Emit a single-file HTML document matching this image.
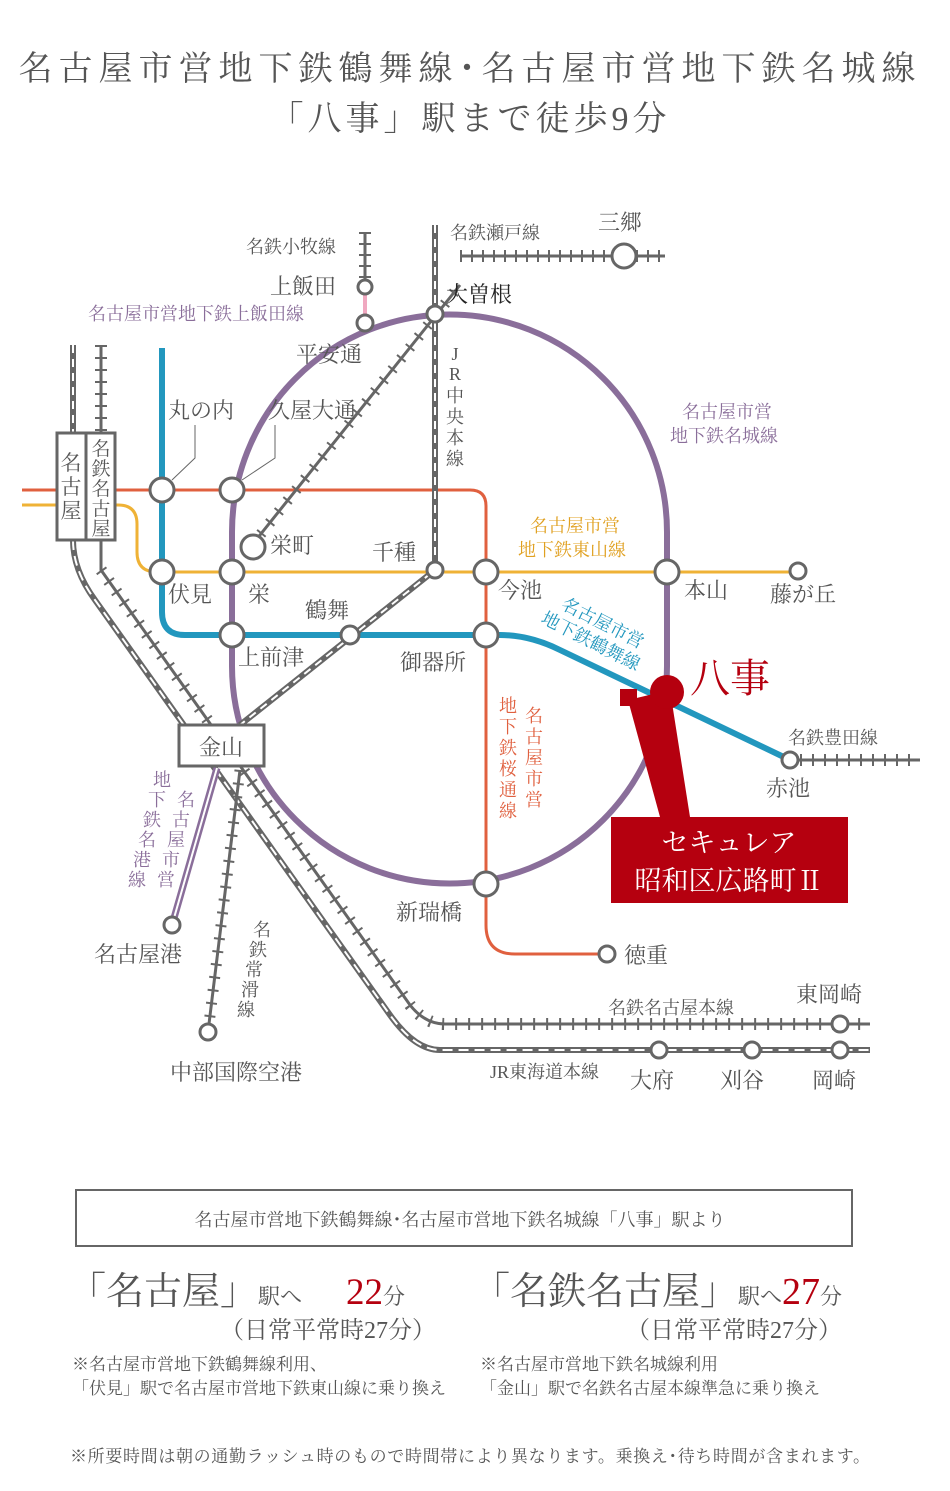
<!DOCTYPE html>
<html><head><meta charset="utf-8"><style>
html,body{margin:0;padding:0;background:#fff;}
svg{display:block;}
text{font-family:"Liberation Serif","Noto Serif CJK SC",serif;fill:#555;}
</style></head><body>
<svg width="950" height="1491" viewBox="0 0 950 1491" xmlns="http://www.w3.org/2000/svg">
<!-- title -->
<text x="470" y="80" font-size="34" text-anchor="middle" letter-spacing="6" fill="#555">名古屋市営地下鉄鶴舞線･名古屋市営地下鉄名城線</text>
<text x="470" y="130" font-size="34" text-anchor="middle" letter-spacing="4" fill="#555">「八事」駅まで徒歩9分</text>

<path d="M22,490 L470,490 Q486,490 486,506 L486,925 Q486,954 515,954 L607,954" fill="none" stroke="#e0603f" stroke-width="3"/>
<path d="M22,505 L118,505 Q137,505 137,524 L137,552 Q137,572 157,572 L800,572" fill="none" stroke="#efb236" stroke-width="3"/>
<path d="M162,348 L162,612 Q162,635 185,635 L500,635 Q530,635 560,650 L790,760" fill="none" stroke="#2297be" stroke-width="6"/>
<path d="M232,532 A217.5,217.5 0 0 1 667,532 L667,666 A217.5,217.5 0 0 1 232,666 Z" fill="none" stroke="#8a6e9a" stroke-width="6"/>
<line x1="365" y1="287" x2="365" y2="323" stroke="#f0a8c0" stroke-width="4"/>

<g stroke="#666" fill="none">
  <line x1="365" y1="232" x2="365" y2="287" stroke-width="3"/>
  <line x1="365" y1="232" x2="365" y2="287" stroke-width="12" stroke-dasharray="2,9"/>
  <line x1="460" y1="256" x2="665" y2="256" stroke-width="3"/>
  <line x1="460" y1="256" x2="665" y2="256" stroke-width="12" stroke-dasharray="2,9"/>
  <line x1="252" y1="545" x2="460" y2="285" stroke-width="3"/>
  <line x1="252" y1="545" x2="460" y2="285" stroke-width="11" stroke-dasharray="2,12"/>
  <path d="M435,225 L435,570 L240,725" stroke-width="6"/>
  <path d="M435,225 L435,570 L240,725" stroke="#fff" stroke-width="2" stroke-dasharray="8,6"/>
  <line x1="73" y1="345" x2="73" y2="433" stroke-width="6"/>
  <line x1="73" y1="345" x2="73" y2="433" stroke="#fff" stroke-width="2" stroke-dasharray="8,6"/>
  <line x1="101" y1="345" x2="101" y2="433" stroke-width="3"/>
  <line x1="101" y1="345" x2="101" y2="433" stroke-width="12" stroke-dasharray="2,10"/>
  <path d="M73,540 Q73,570 95,600 L390,1015 Q415,1050 440,1050 L870,1050" stroke-width="6"/>
  <path d="M73,540 Q73,570 95,600 L390,1015 Q415,1050 440,1050 L870,1050" stroke="#fff" stroke-width="2" stroke-dasharray="10,6"/>
  <path d="M101,540 L101,570 L410,1005 Q425,1024 445,1024 L870,1024" stroke-width="3"/>
  <path d="M101,570 L410,1005 Q425,1024 445,1024 L870,1024" stroke-width="12" stroke-dasharray="2,11"/>
  <line x1="240" y1="770" x2="208" y2="1032" stroke-width="3"/>
  <line x1="240" y1="770" x2="208" y2="1032" stroke-width="11" stroke-dasharray="2,11"/>
  <line x1="790" y1="760" x2="920" y2="760" stroke-width="3"/>
  <line x1="800" y1="760" x2="920" y2="760" stroke-width="12" stroke-dasharray="2,10"/>
</g>
<line x1="217" y1="768" x2="172" y2="925" stroke="#8a6e9a" stroke-width="7"/>
<line x1="217" y1="768" x2="172" y2="925" stroke="#fff" stroke-width="2"/>

<polyline points="172,480 195,458 195,425" fill="none" stroke="#666" stroke-width="1"/>
<polyline points="242,480 275,458 275,425" fill="none" stroke="#666" stroke-width="1"/>

<rect x="57" y="433" width="29" height="107" fill="#fff" stroke="#666" stroke-width="3"/>
<rect x="86" y="433" width="29" height="107" fill="#fff" stroke="#666" stroke-width="3"/>
<text x="71" y="470" font-size="21" text-anchor="middle">名</text>
<text x="71" y="494" font-size="21" text-anchor="middle">古</text>
<text x="71" y="518" font-size="21" text-anchor="middle">屋</text>
<text x="101" y="455" font-size="19" text-anchor="middle">名</text>
<text x="101" y="475" font-size="19" text-anchor="middle">鉄</text>
<text x="101" y="495" font-size="19" text-anchor="middle">名</text>
<text x="101" y="515" font-size="19" text-anchor="middle">古</text>
<text x="101" y="535" font-size="19" text-anchor="middle">屋</text>
<rect x="179" y="725" width="85" height="41" fill="#fff" stroke="#666" stroke-width="3"/>
<text x="221" y="755" font-size="22" text-anchor="middle">金山</text>

<g fill="#fff" stroke="#666" stroke-width="3">
<circle cx="162" cy="490" r="12"/><circle cx="232" cy="490" r="12"/>
<circle cx="162" cy="572" r="12"/><circle cx="232" cy="572" r="12"/>
<circle cx="253" cy="547" r="12"/>
<circle cx="232" cy="635" r="12"/><circle cx="350" cy="635" r="9"/>
<circle cx="486" cy="572" r="12"/><circle cx="486" cy="635" r="12"/>
<circle cx="435" cy="570" r="8"/>
<circle cx="667" cy="572" r="12"/><circle cx="798" cy="571" r="8"/>
<circle cx="365" cy="323" r="8"/><circle cx="365" cy="287" r="7"/>
<circle cx="435" cy="314" r="8"/><circle cx="624" cy="256" r="12"/>
<circle cx="486" cy="884" r="12"/><circle cx="607" cy="954" r="8"/>
<circle cx="790" cy="760" r="8"/><circle cx="172" cy="925" r="8"/>
<circle cx="208" cy="1032" r="8"/>
<circle cx="840" cy="1024" r="8"/>
<circle cx="659" cy="1050" r="8"/><circle cx="752" cy="1050" r="8"/><circle cx="840" cy="1050" r="8"/>
</g>

<polygon points="628,700 660,817 690,817 670,690" fill="#b5000f"/>
<rect x="620" y="689" width="17" height="17" fill="#b5000f"/>
<circle cx="667" cy="692" r="17" fill="#b5000f"/>
<rect x="611" y="817" width="237" height="86" fill="#b5000f"/>
<text x="729" y="852" font-size="27" text-anchor="middle" style="fill:#fff">セキュレア</text>
<text x="729" y="890" font-size="27" text-anchor="middle" style="fill:#fff">昭和区広路町Ⅱ</text>
<text x="690" y="692" font-size="40" style="fill:#b5000f">八事</text>

<g font-size="22">
<text x="168" y="418">丸の内</text>
<text x="268" y="418">久屋大通</text>
<text x="296" y="362">平安通</text>
<text x="270" y="294">上飯田</text>
<text x="446" y="302" style="fill:#222">大曽根</text>
<text x="598" y="230">三郷</text>
<text x="270" y="553">栄町</text>
<text x="372" y="560">千種</text>
<text x="168" y="602">伏見</text>
<text x="248" y="602">栄</text>
<text x="305" y="618">鶴舞</text>
<text x="238" y="665">上前津</text>
<text x="400" y="670">御器所</text>
<text x="498" y="598">今池</text>
<text x="684" y="598">本山</text>
<text x="770" y="602">藤が丘</text>
<text x="766" y="796">赤池</text>
<text x="396" y="920">新瑞橋</text>
<text x="624" y="963">徳重</text>
<text x="94" y="962">名古屋港</text>
<text x="170" y="1080">中部国際空港</text>
<text x="796" y="1002">東岡崎</text>
<text x="630" y="1088">大府</text>
<text x="720" y="1088">刈谷</text>
<text x="812" y="1088">岡崎</text>
</g>
<g font-size="18">
<text x="246" y="253">名鉄小牧線</text>
<text x="450" y="239">名鉄瀬戸線</text>
<text x="88" y="320" style="fill:#8a6e9a">名古屋市営地下鉄上飯田線</text>
<text x="682" y="418" style="fill:#8a6e9a">名古屋市営</text>
<text x="670" y="442" style="fill:#8a6e9a">地下鉄名城線</text>
<text x="530" y="532" style="fill:#e0a020">名古屋市営</text>
<text x="518" y="556" style="fill:#e0a020">地下鉄東山線</text>
<text x="788" y="744">名鉄豊田線</text>
<text x="608" y="1014">名鉄名古屋本線</text>
<text x="490" y="1078">JR東海道本線</text>
</g>
<g font-size="18" text-anchor="middle">
<text x="455" y="360">J</text><text x="455" y="380">R</text><text x="455" y="402">中</text><text x="455" y="423">央</text><text x="455" y="444">本</text><text x="455" y="465">線</text>
<text x="534" y="722" style="fill:#e0603f">名</text><text x="534" y="743" style="fill:#e0603f">古</text><text x="534" y="764" style="fill:#e0603f">屋</text><text x="534" y="785" style="fill:#e0603f">市</text><text x="534" y="806" style="fill:#e0603f">営</text>
<text x="508" y="712" style="fill:#e0603f">地</text><text x="508" y="733" style="fill:#e0603f">下</text><text x="508" y="754" style="fill:#e0603f">鉄</text><text x="508" y="775" style="fill:#e0603f">桜</text><text x="508" y="796" style="fill:#e0603f">通</text><text x="508" y="817" style="fill:#e0603f">線</text>
</g>
<g font-size="18" style="fill:#2297be">
<text transform="translate(560,608) rotate(27)" style="fill:#2297be">名古屋市営</text>
<text transform="translate(540,622) rotate(27)" style="fill:#2297be">地下鉄鶴舞線</text>
</g>
<!-- Meiko vertical labels -->
<g font-size="18" text-anchor="middle" style="fill:#8a6e9a">
<text x="186" y="806" style="fill:#8a6e9a">名</text><text x="181" y="826" style="fill:#8a6e9a">古</text><text x="176" y="846" style="fill:#8a6e9a">屋</text><text x="171" y="866" style="fill:#8a6e9a">市</text><text x="166" y="886" style="fill:#8a6e9a">営</text>
<text x="162" y="786" style="fill:#8a6e9a">地</text><text x="157" y="806" style="fill:#8a6e9a">下</text><text x="152" y="826" style="fill:#8a6e9a">鉄</text><text x="147" y="846" style="fill:#8a6e9a">名</text><text x="142" y="866" style="fill:#8a6e9a">港</text><text x="137" y="886" style="fill:#8a6e9a">線</text>
</g>
<g font-size="18" text-anchor="middle">
<text x="262" y="936">名</text><text x="258" y="956">鉄</text><text x="254" y="976">常</text><text x="250" y="996">滑</text><text x="246" y="1016">線</text>
</g>

<rect x="76" y="1190" width="776" height="56" fill="#fff" stroke="#666" stroke-width="2"/>
<text x="460" y="1226" font-size="18" text-anchor="middle" fill="#444">名古屋市営地下鉄鶴舞線･名古屋市営地下鉄名城線「八事」駅より</text>

<text x="68" y="1304" font-size="38" fill="#555">「名古屋」<tspan font-size="22">駅へ</tspan></text>
<text x="346" y="1304" font-size="37" style="fill:#b5000f">22<tspan font-size="22" style="fill:#555">分</tspan></text>
<text x="220" y="1338" font-size="24">（日常平常時27分）</text>
<text x="72" y="1370" font-size="17" fill="#444">※名古屋市営地下鉄鶴舞線利用、</text>
<text x="72" y="1394" font-size="17" fill="#444">「伏見」駅で名古屋市営地下鉄東山線に乗り換え</text>

<text x="472" y="1304" font-size="38">「名鉄名古屋」<tspan font-size="22">駅へ</tspan><tspan style="fill:#b5000f">27</tspan><tspan font-size="22">分</tspan></text>
<text x="626" y="1338" font-size="24">（日常平常時27分）</text>
<text x="480" y="1370" font-size="17" fill="#444">※名古屋市営地下鉄名城線利用</text>
<text x="480" y="1394" font-size="17" fill="#444">「金山」駅で名鉄名古屋本線準急に乗り換え</text>

<text x="70" y="1462" font-size="17" fill="#444" textLength="800">※所要時間は朝の通勤ラッシュ時のもので時間帯により異なります。乗換え･待ち時間が含まれます。</text>
</svg>
</body></html>
